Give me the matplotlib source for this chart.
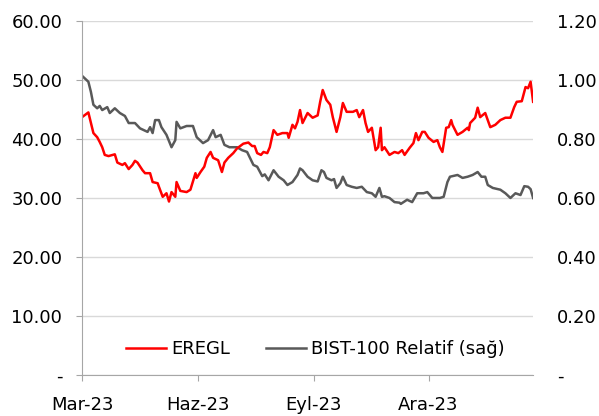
import matplotlib
matplotlib.use("Agg")
import matplotlib.pyplot as plt
import pandas as pd

START = pd.Timestamp("2023-03-01")

# EREGL (left axis): days since START, price
eregl_days = [0, 5, 9, 12, 14, 16, 18, 21, 26, 28, 32, 34, 37, 40, 42, 44, 48, 50, 54, 56,
              60, 61, 64, 67, 69, 71, 74, 75, 78, 83, 86, 90, 91, 94, 97, 99, 102, 104, 108, 111,
              113, 116, 120, 123, 128, 132, 135, 137, 139, 142, 144, 147, 149, 152, 155, 159, 163, 164, 167, 169,
              171, 173, 175, 179, 183, 187, 189, 191, 194, 197, 199, 202, 205, 207, 210, 215, 218, 220, 223, 225,
              227, 230, 233, 235, 237, 238, 240, 244, 248, 251, 254, 256, 260, 263, 265, 267, 270, 272, 275, 279,
              282, 284, 286, 289, 291, 293, 294, 298, 302, 306, 307, 308, 312, 314, 316, 320, 324, 328, 332, 336,
              340, 343, 345, 349, 352, 354, 356, 358]
eregl = [43.7, 44.5, 41.0, 40.3, 39.5, 38.6, 37.3, 37.1, 37.4, 36.0, 35.6, 35.9, 34.9, 35.6, 36.3, 36.0, 34.7, 34.2, 34.2, 32.7,
         32.5, 31.9, 30.2, 30.8, 29.4, 31.0, 30.2, 32.7, 31.2, 31.0, 31.4, 34.2, 33.4, 34.4, 35.3, 36.8, 37.8, 36.8, 36.4, 34.4,
         36.0, 36.8, 37.6, 38.4, 39.2, 39.4, 38.8, 38.8, 37.6, 37.3, 37.8, 37.6, 38.6, 41.5, 40.7, 41.0, 41.0, 40.2, 42.4, 41.8,
         42.9, 44.9, 42.7, 44.4, 43.6, 44.0, 46.3, 48.3, 46.6, 45.8, 43.7, 41.2, 43.7, 46.1, 44.6, 44.6, 44.9, 43.7, 44.9, 42.7,
         41.2, 41.9, 38.1, 38.6, 41.9, 38.1, 38.6, 37.3, 37.8, 37.6, 38.1, 37.3, 38.5, 39.3, 41.0, 39.8, 41.2, 41.2, 40.2, 39.5,
         39.8, 38.6, 37.8, 41.9, 42.0, 43.2, 42.4, 40.7, 41.2, 41.9, 41.5, 42.7, 43.6, 45.3, 43.7, 44.4, 42.0, 42.4, 43.2, 43.6,
         43.6, 45.4, 46.3, 46.4, 48.8, 48.6, 49.7, 46.3]

# BIST-100 relative (right axis)
rel_days = [0, 5, 7, 9, 12, 14, 16, 20, 22, 26, 30, 34, 37, 42, 46, 52, 54, 56, 58, 61,
            63, 67, 71, 74, 75, 78, 83, 88, 91, 96, 100, 104, 106, 110, 113, 117, 123, 127, 131, 136,
            139, 143, 145, 148, 152, 156, 160, 163, 167, 171, 173, 175, 179, 183, 187, 190, 192, 194, 198, 200,
            202, 205, 207, 210, 214, 218, 222, 226, 230, 233, 236, 238, 240, 244, 248, 252, 253, 258, 262, 266,
            271, 274, 278, 284, 287, 290, 292, 298, 302, 306, 310, 314, 317, 320, 322, 326, 332, 336, 340, 344,
            348, 351, 354, 356, 358]
rel = [1.014, 0.994, 0.960, 0.916, 0.904, 0.912, 0.898, 0.908, 0.888, 0.904, 0.888, 0.878, 0.854, 0.854, 0.836, 0.824, 0.840, 0.820, 0.864, 0.864,
       0.840, 0.814, 0.772, 0.796, 0.858, 0.836, 0.844, 0.844, 0.806, 0.786, 0.796, 0.830, 0.806, 0.814, 0.780, 0.772, 0.772, 0.762, 0.756, 0.712,
       0.706, 0.674, 0.680, 0.660, 0.694, 0.672, 0.660, 0.644, 0.654, 0.678, 0.700, 0.694, 0.672, 0.660, 0.656, 0.694, 0.688, 0.668, 0.660, 0.664,
       0.634, 0.650, 0.672, 0.644, 0.638, 0.634, 0.638, 0.620, 0.616, 0.604, 0.634, 0.604, 0.606, 0.600, 0.586, 0.584, 0.580, 0.594, 0.586, 0.616,
       0.616, 0.620, 0.600, 0.600, 0.604, 0.654, 0.672, 0.678, 0.668, 0.672, 0.678, 0.688, 0.672, 0.672, 0.644, 0.634, 0.628, 0.616, 0.600, 0.616,
       0.610, 0.640, 0.638, 0.630, 0.600]

tick_dates = ["2023-03-01", "2023-06-01", "2023-09-01", "2023-12-01"]
tick_labels = ["Mar-23", "Haz-23", "Eyl-23", "Ara-23"]
left_ticks = [0, 10, 20, 30, 40, 50, 60]
right_ticks = [0, 0.2, 0.4, 0.6, 0.8, 1.0, 1.2]


def main() -> None:
    plt.rcParams["font.family"] = ["DejaVu Sans"]
    plt.rcParams["font.size"] = 13

    x1 = START + pd.to_timedelta(eregl_days, unit="D")
    x2 = START + pd.to_timedelta(rel_days, unit="D")

    fig = plt.figure(figsize=(5.99, 4.16), dpi=100)
    ax1 = fig.add_axes([0.137, 0.0986, 0.753, 0.851])
    ax2 = ax1.twinx()

    ax1.set_zorder(ax2.get_zorder() + 1)
    ax1.patch.set_visible(False)

    ax1.plot(x1, eregl, color="#ff0000", linewidth=1.8, label="EREGL")
    ax2.plot(x2, rel, color="#595959", linewidth=1.8, label="BIST-100 Relatif (sağ)")

    ax1.set_xlim(START, START + pd.Timedelta(days=358))
    ax1.set_ylim(0, 60)
    ax2.set_ylim(0, 1.2)

    ax1.set_yticks(left_ticks)
    ax1.set_yticklabels(["-" if v == 0 else f"{v:.2f}" for v in left_ticks])
    ax2.set_yticks(right_ticks)
    ax2.set_yticklabels(["-" if v == 0 else f"{v:.2f}" for v in right_ticks])

    ax1.set_xticks(pd.to_datetime(tick_dates))
    ax1.set_xticklabels(tick_labels)

    ax2.grid(axis="y", color="#d9d9d9", linewidth=1.0)
    ax2.set_axisbelow(True)

    for ax in (ax1, ax2):
        for side in ("top", "right", "left", "bottom"):
            ax.spines[side].set_visible(False)
    ax1.spines["left"].set_visible(True)
    ax1.spines["bottom"].set_visible(True)
    ax1.spines["left"].set_color("#a6a6a6")
    ax1.spines["bottom"].set_color("#a6a6a6")

    ax1.tick_params(axis="y", length=4.3, color="#a6a6a6", pad=10)
    ax1.tick_params(axis="x", length=4, color="#a6a6a6", pad=11)
    ax2.tick_params(axis="y", length=0, pad=17)

    lines_1, labels_1 = ax1.get_legend_handles_labels()
    lines_2, labels_2 = ax2.get_legend_handles_labels()
    ax1.legend(lines_1 + lines_2, labels_1 + labels_2, loc="center",
               bbox_to_anchor=(0.517, 0.073), ncol=2, frameon=False,
               handlelength=2.2, handletextpad=0.3, columnspacing=2.0)

    fig.savefig("out.png", dpi=100)
    plt.close(fig)


if __name__ == "__main__":
    main()
